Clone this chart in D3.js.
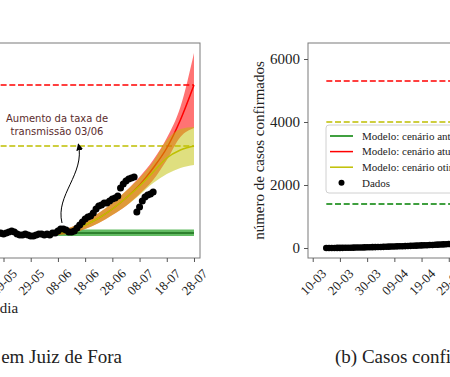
<!DOCTYPE html>
<html>
<head>
<meta charset="utf-8">
<script src="https://cdn.jsdelivr.net/npm/d3@7"></script>
<style>
body { margin: 0; background: #fff; }
</style>
</head>
<body>
<script>
// ---- data ----
// tick dates, every 10 days
var tickDias = ["2020-03-10","2020-03-20","2020-03-30","2020-04-09","2020-04-19","2020-04-29",
    "2020-05-09","2020-05-19","2020-05-29","2020-06-08","2020-06-18","2020-06-28",
    "2020-07-08","2020-07-18","2020-07-28"];
var yTicksB = [0, 2000, 4000, 6000];

// (a) daily data points, one per day from inicioA
var inicioA = "2020-05-10";
var dadosA = [140,150,140,130,140,150,140,140,150,
    140,150,160,170,160,140,130,130,140,130,120,120,130,
    140,140,130,140,130,150,150,170,190,190,180,160,160,170,
    200,230,260,290,310,320,350,390,420,430,450,450,470,490,500,520,
    600,640,670,690,700,710,360,410,470,510,530,540,560];

// (a) model curves, one row per date in modeloDias
var modeloDias = ["2020-06-08","2020-06-13","2020-06-18","2020-06-23","2020-06-28","2020-07-03",
    "2020-07-08","2020-07-13","2020-07-18","2020-07-23","2020-07-28"];
var atualMedio = [150,180,230,300,390,500,630,800,1000,1280,1630];
var atualMin   = [130,150,190,250,330,420,540,680,880,1110,1200];
var atualMax   = [170,210,270,350,450,570,710,880,1100,1410,1950];
var otimMedio  = [150,180,230,300,390,500,620,760,900,980,1020];
var otimMin    = [130,150,190,250,330,420,530,650,740,800,830];
var otimMax    = [170,210,270,350,450,570,700,860,1080,1190,1210];
var antMedio   = [150,150,150,150,150,150,150,150,150,150,150];
var antMin     = [120,120,120,120,120,120,120,120,120,120,120];
var antMax     = [185,185,185,185,185,185,185,185,185,185,185];

// final levels (dashed lines)
var picoInicio = "2020-03-15", picoFim = "2020-07-28";
var picoAtualA = 1630, picoOtimA = 1020;
var picoAntB = 1400, picoAtualB = 5300, picoOtimB = 4000;

// (b) daily data points from inicioB
var inicioB = "2020-03-15";
var dadosB = [1,1,2,2,3,4,5,6,8,10,12,14,16,18,20,22,24,
    27,29,31,34,37,40,43,46,50,53,56,58,61,65,68,72,75,79,83,86,90,94,98,102,106,110,115,120,126,132,
    138,145,152,160,168];

var legendaTextos = ["Modelo: cenário anterior", "Modelo: cenário atual", "Modelo: cenário otimista", "Dados"];

// ---- layout ----
var width = 450, height = 377;
var plotTop = 43, plotBottom = 258;
var serif = "Liberation Serif, Times New Roman, serif";
var vermelho = "red", amarelo = "#bfbf00", verde = "green";

var parse = d3.utcParse("%Y-%m-%d");
var fmt = d3.utcFormat("%d-%m");

var svg = d3.select("body").append("svg")
    .attr("width", width)
    .attr("height", height)
    .style("font-family", serif);

// scales
var xA = d3.scaleUtc()
    .domain([new Date("2020-03-11T20:00Z"), new Date("2020-07-30T05:00Z")])
    .range([-182, 200]);
var yA = d3.scaleLinear().domain([-100, 2050]).range([plotBottom, plotTop]);

var xB = d3.scaleUtc()
    .domain([new Date("2020-03-08T06:30Z"), new Date("2020-07-26T15:30Z")])
    .range([308, 690]);
var yB = d3.scaleLinear().domain([-317, 6508]).range([plotBottom, plotTop]);

var dayA = function(i) { return d3.utcDay.offset(parse(inicioA), i); };
var dayB = function(i) { return d3.utcDay.offset(parse(inicioB), i); };

function xAxis(g, x) {
    var ticks = tickDias.map(parse).filter(function(d) {
        return d >= x.domain()[0] && d <= x.domain()[1];
    });
    g.attr("transform", "translate(0," + plotBottom + ")")
        .call(d3.axisBottom(x).tickValues(ticks).tickFormat(fmt).tickSize(4));
    g.select(".domain").remove();
    g.selectAll("line").attr("stroke", "#555");
    g.selectAll("text")
        .attr("y", 0).attr("dy", "0.35em")
        .attr("text-anchor", "middle")
        .attr("transform", "translate(0,24) rotate(-45)")
        .style("font-family", serif)
        .style("font-size", "13px")
        .attr("fill", "#222");
}

// ================= panel (a) =================
var gA = svg.append("g");

// dashed final levels
[[picoAtualA, vermelho], [picoOtimA, amarelo]].forEach(function(p) {
    gA.append("line")
        .attr("x1", xA(parse(picoInicio))).attr("x2", xA(parse(picoFim)))
        .attr("y1", yA(p[0])).attr("y2", yA(p[0]))
        .attr("stroke", p[1]).attr("stroke-width", 1.5)
        .style("stroke-dasharray", "6,2.7");
});

function banda(lo, hi) {
    return d3.area()
        .x(function(d, i) { return xA(parse(modeloDias[i])); })
        .y0(function(d, i) { return yA(lo[i]); })
        .y1(function(d, i) { return yA(hi[i]); })
        .curve(d3.curveMonotoneX)(modeloDias);
}
function linha(v) {
    return d3.line()
        .x(function(d, i) { return xA(parse(modeloDias[i])); })
        .y(function(d, i) { return yA(v[i]); })
        .curve(d3.curveMonotoneX)(modeloDias);
}

// green scenario
gA.append("path").attr("d", banda(antMin, antMax))
    .attr("fill", "#2fa52f").attr("fill-opacity", 0.75);
gA.append("path").attr("d", linha(antMedio))
    .attr("fill", "none").attr("stroke", "#1d6e1d").attr("stroke-width", 1.5);

// red scenario
gA.append("path").attr("d", linha(atualMedio))
    .attr("fill", "none").attr("stroke", vermelho).attr("stroke-width", 1.5);
gA.append("path").attr("d", banda(atualMin, atualMax))
    .attr("fill", vermelho).attr("fill-opacity", 0.55);

// yellow scenario
gA.append("path").attr("d", linha(otimMedio))
    .attr("fill", "none").attr("stroke", amarelo).attr("stroke-width", 1.5);
gA.append("path").attr("d", banda(otimMin, otimMax))
    .attr("fill", amarelo).attr("fill-opacity", 0.5);

// data points
gA.selectAll("circle.dado")
    .data(dadosA)
    .enter()
    .append("circle")
    .attr("class", "dado")
    .attr("cx", function(d, i) { return xA(dayA(i)); })
    .attr("cy", function(d) { return yA(d); })
    .attr("r", 3.5)
    .attr("fill", "#000");

// annotation
svg.append("defs").append("marker")
    .attr("id", "seta")
    .attr("viewBox", "0 0 10 10")
    .attr("refX", 9).attr("refY", 5)
    .attr("markerWidth", 7).attr("markerHeight", 7)
    .attr("markerUnits", "userSpaceOnUse")
    .attr("orient", "auto")
    .append("path").attr("d", "M0,0L10,5L0,10z").attr("fill", "#000");

var p0 = [xA(new Date("2020-06-09T12:00Z")), yA(250)];
var p3 = [xA(new Date("2020-06-15T12:00Z")), yA(1040)];
gA.append("path")
    .attr("d", "M" + p0[0] + "," + p0[1] +
        "C" + (p0[0] - 7) + "," + (p0[1] - 28) + " " +
        (p3[0] + 7) + "," + (p3[1] + 30) + " " + p3[0] + "," + p3[1])
    .attr("fill", "none").attr("stroke", "#000").attr("stroke-width", 1)
    .attr("marker-end", "url(#seta)");

var anotX = xA(new Date("2020-06-07T16:00Z"));
var anot = gA.append("text")
    .attr("x", anotX)
    .attr("y", yA(1260))
    .attr("text-anchor", "middle")
    .style("font-family", "DejaVu Sans, sans-serif")
    .style("font-size", "10px")
    .attr("fill", "#5b2c2c");
anot.append("tspan").attr("x", anotX).text("Aumento da taxa de");
anot.append("tspan").attr("x", anotX).attr("dy", 13).text("transmissão 03/06");

// frame + axes
gA.append("rect")
    .attr("x", xA.range()[0]).attr("y", plotTop)
    .attr("width", xA.range()[1] - xA.range()[0]).attr("height", plotBottom - plotTop)
    .attr("fill", "none").attr("stroke", "#7a7a7a").attr("stroke-width", 1);
gA.append("g").call(xAxis, xA);

gA.append("text")
    .attr("x", (xA.range()[0] + xA.range()[1]) / 2)
    .attr("y", 313)
    .attr("text-anchor", "middle")
    .style("font-size", "15px")
    .attr("fill", "#222")
    .text("dia");

svg.append("text")
    .attr("x", 122).attr("y", 363)
    .attr("text-anchor", "end")
    .style("font-size", "19px")
    .attr("fill", "#222")
    .text("(a) Casos confirmados em Juiz de Fora");

// ================= panel (b) =================
var gB = svg.append("g");

[[picoAtualB, vermelho], [picoOtimB, amarelo], [picoAntB, verde]].forEach(function(p) {
    gB.append("line")
        .attr("x1", xB(parse(picoInicio))).attr("x2", xB(parse(picoFim)))
        .attr("y1", yB(p[0])).attr("y2", yB(p[0]))
        .attr("stroke", p[1]).attr("stroke-width", 1.5)
        .style("stroke-dasharray", "6,2.7");
});

gB.selectAll("circle.dado")
    .data(dadosB)
    .enter()
    .append("circle")
    .attr("class", "dado")
    .attr("cx", function(d, i) { return xB(dayB(i)); })
    .attr("cy", function(d) { return yB(d); })
    .attr("r", 3.3)
    .attr("fill", "#000");

// legend
var leg = gB.append("g").attr("transform", "translate(326,125)");
leg.append("rect")
    .attr("width", 200).attr("height", 68).attr("rx", 3)
    .attr("fill", "#fff").attr("fill-opacity", 0.8)
    .attr("stroke", "#d0d0d0");
var legCores = [verde, vermelho, amarelo, null];
legendaTextos.forEach(function(t, i) {
    var yy = 11 + i * 15.6;
    if (legCores[i]) {
        leg.append("line").attr("x1", 4).attr("x2", 27).attr("y1", yy).attr("y2", yy)
            .attr("stroke", legCores[i]).attr("stroke-width", 1.5);
    } else {
        leg.append("circle").attr("cx", 15.5).attr("cy", yy).attr("r", 3).attr("fill", "#000");
    }
    leg.append("text").attr("x", 36).attr("y", yy).attr("dy", "0.35em")
        .style("font-size", "11px").attr("fill", "#222").text(t);
});

gB.append("rect")
    .attr("x", xB.range()[0]).attr("y", plotTop)
    .attr("width", xB.range()[1] - xB.range()[0]).attr("height", plotBottom - plotTop)
    .attr("fill", "none").attr("stroke", "#7a7a7a").attr("stroke-width", 1);
gB.append("g").call(xAxis, xB);

var yAxB = gB.append("g")
    .attr("transform", "translate(" + xB.range()[0] + ",0)")
    .call(d3.axisLeft(yB).tickValues(yTicksB).tickFormat(d3.format("d")).tickSize(4).tickPadding(4));
yAxB.select(".domain").remove();
yAxB.selectAll("line").attr("stroke", "#555");
yAxB.selectAll("text").style("font-family", serif).style("font-size", "15px").attr("fill", "#222");

gB.append("text")
    .attr("transform", "translate(264," + ((plotTop + plotBottom) / 2) + ") rotate(-90)")
    .attr("text-anchor", "middle")
    .style("font-size", "15px")
    .attr("fill", "#222")
    .text("número de casos confirmados");

gB.append("text")
    .attr("x", (xB.range()[0] + xB.range()[1]) / 2)
    .attr("y", 313)
    .attr("text-anchor", "middle")
    .style("font-size", "15px")
    .attr("fill", "#222")
    .text("dia");

svg.append("text")
    .attr("x", 335).attr("y", 363)
    .style("font-size", "19px")
    .attr("fill", "#222")
    .text("(b) Casos confirmados em Minas Gerais");
</script>
</body>
</html>
